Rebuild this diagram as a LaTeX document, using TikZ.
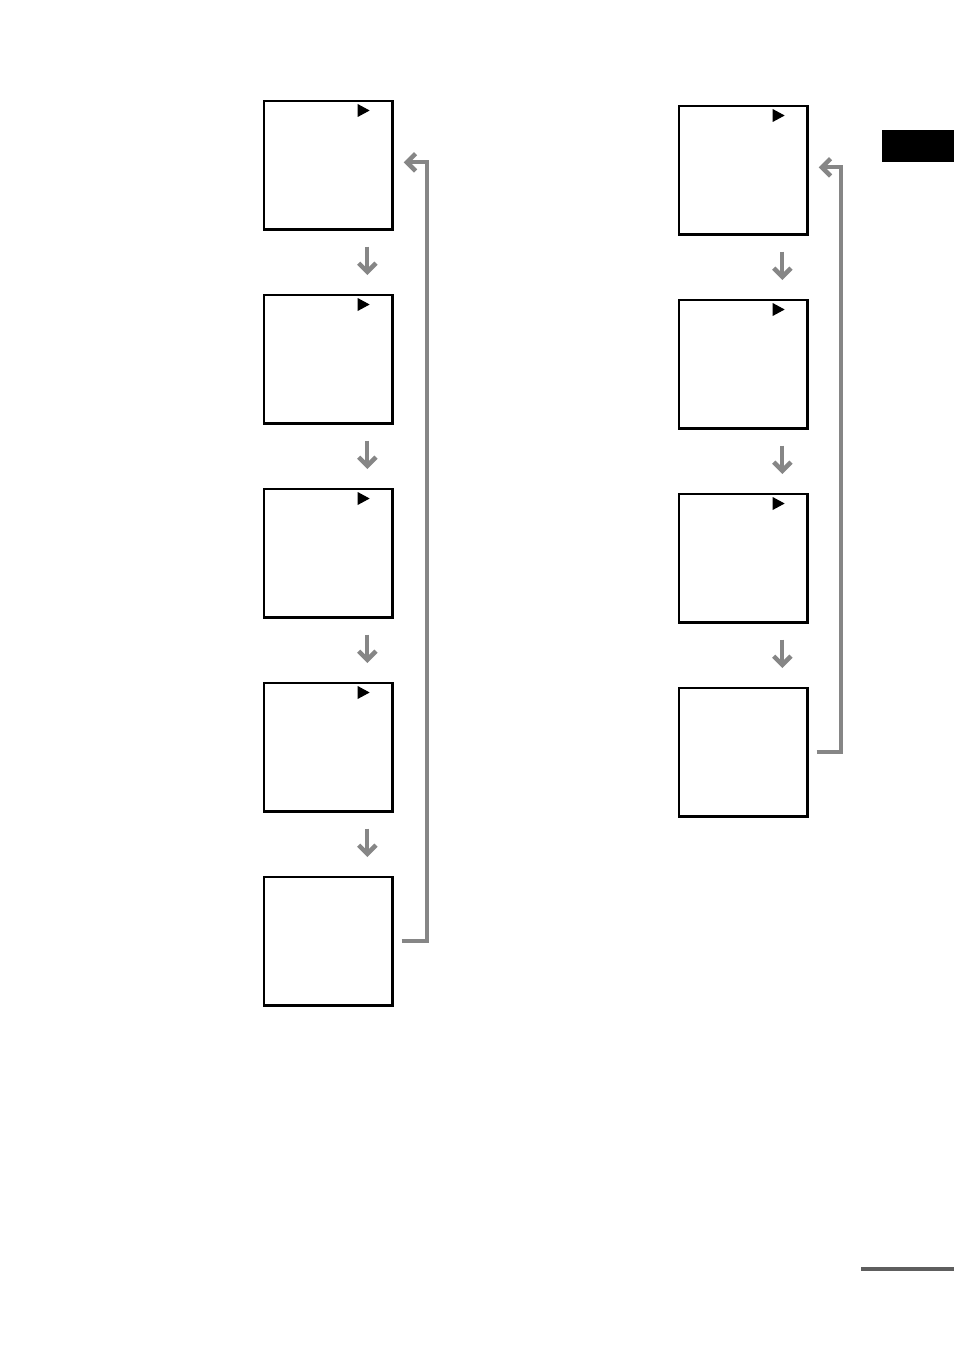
\documentclass[tikz,border=0pt]{standalone}
\usetikzlibrary{arrows.meta,calc}
\definecolor{arrgray}{HTML}{868686}
\definecolor{rulegray}{HTML}{5E5E5E}
\begin{document}
\begin{tikzpicture}[x=0.75pt,y=-0.75pt,
  screen/.style={draw=black,line width=2pt,minimum width=96.5pt,minimum height=96.5pt,inner sep=0pt,outer sep=0pt,anchor=north west},
  darr/.style={draw=arrgray,line width=3.2pt,-{Straight Barb[length=6.5pt,width=13pt,line width=3.4pt]}},
  rarr/.style={draw=arrgray,line width=3.2pt,-{Straight Barb[length=6.5pt,width=13pt,line width=3.4pt]}},
  play/.style={fill=black}]
\useasboundingbox (0,0) rectangle (954,1352);
% left column
\foreach \i/\y in {1/101,2/295,3/489,4/683,5/877} {
  \node[screen] (L\i) at (264,\y) {};
}
% right column
\foreach \i/\y in {1/106,2/300,3/494,4/688} {
  \node[screen] (R\i) at (679,\y) {};
}
% play triangles
\foreach \n in {L1,L2,L3,L4,R1,R2,R3} {
  \fill[play] ($(\n.north east)+(-35,3)$) -- ($(\n.north east)+(-23,9.5)$) -- ($(\n.north east)+(-35,16)$) -- cycle;
}
% down arrows
\foreach \a/\b in {L1/L2,L2/L3,L3/L4,L4/L5,R1/R2,R2/R3,R3/R4} {
  \draw[darr] ($(\a.south)+(39,17)$) -- ($(\b.north)+(39,-20)$);
}
% return arrows
\draw[rarr] ($(L5.east)+(9,0)$) -- ++(25,0) |- ($(L1.east)+(11,-3)$);
\draw[rarr] ($(R4.east)+(9,0)$) -- ++(24,0) |- ($(R1.east)+(11,-3)$);
% tab and rule
\fill[black] (882,130) rectangle (954,162.5);
\fill[rulegray] (861,1267) rectangle (954,1271);
\end{tikzpicture}
\end{document}
